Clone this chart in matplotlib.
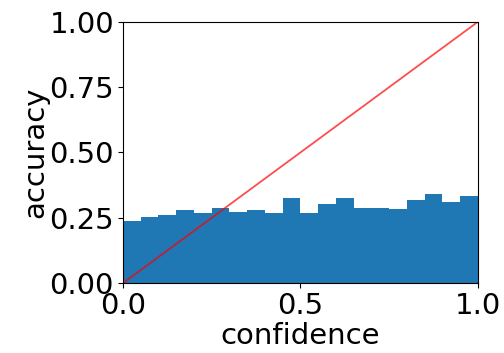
import numpy as np
import matplotlib.pyplot as plt

# Hauteurs des barres (précision par bin de confiance)
n_bins = 20
accuracy = [0.239, 0.252, 0.259, 0.281, 0.268, 0.289, 0.273, 0.281, 0.267, 0.326,
            0.267, 0.304, 0.326, 0.289, 0.289, 0.282, 0.318, 0.340, 0.312, 0.333]
diag = [0.0, 1.0]

edges = np.linspace(0, 1, n_bins + 1)

fig = plt.figure(figsize=(5.04, 3.53), dpi=100)
ax = fig.add_axes([0.244, 0.198, 0.704, 0.740])

ax.bar(edges[:-1], accuracy, width=1.0 / n_bins, align='edge', color='tab:blue')
ax.plot(diag, diag, color='red', alpha=0.7, linewidth=1.3)

ax.set_xlim(0, 1)
ax.set_ylim(0, 1)
ax.set_xticks([0.0, 0.5, 1.0])
ax.set_yticks([0.0, 0.25, 0.5, 0.75, 1.0])
ax.tick_params(labelsize=21, pad=3)
ax.set_xlabel('confidence', fontsize=21, labelpad=1)
ax.set_ylabel('accuracy', fontsize=21, labelpad=0)

fig.savefig('out.png', dpi=100)
